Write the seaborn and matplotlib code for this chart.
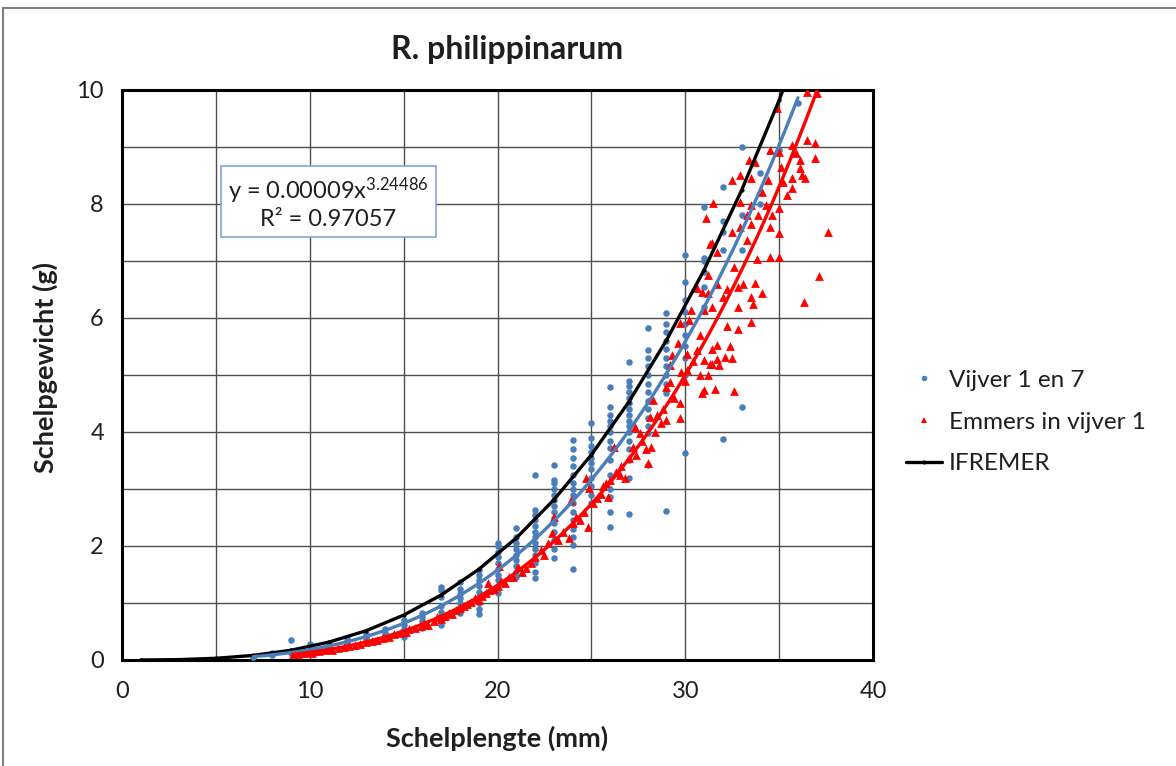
import numpy as np
import matplotlib
matplotlib.use("Agg")
import matplotlib.pyplot as plt
import seaborn as sns
from matplotlib.lines import Line2D

# ---------------- data ----------------
title = "R. philippinarum"
x_label = "Schelplengte (mm)"
y_label = "Schelpgewicht (g)"
series_names = ["Vijver 1 en 7", "Emmers in vijver 1", "IFREMER"]
equation_text = "y = 0.00009x$^{3.24486}$"
r2_text = "R² = 0.97057"

# Vijver 1 en 7: lengths (integer mm) and the weights measured at each length
blue_lengths = [7, 8, 9, 10, 11, 12, 13, 14, 15, 16, 17, 18, 19, 20, 21, 22,
                23, 24, 25, 26, 27, 28, 29, 30, 31, 32, 33, 34, 35, 36]
blue_weights = [
    [0.05, 0.06],
    [0.08, 0.10, 0.12],
    [0.12, 0.14, 0.16, 0.35],
    [0.16, 0.18, 0.20, 0.24, 0.28],
    [0.20, 0.24, 0.27, 0.30],
    [0.26, 0.30, 0.34, 0.38],
    [0.32, 0.36, 0.40, 0.45],
    [0.38, 0.43, 0.48, 0.55],
    [0.40, 0.48, 0.55, 0.62, 0.70],
    [0.56, 0.62, 0.68, 0.75, 0.82],
    [0.62, 0.70, 0.78, 0.85, 0.95, 1.10, 1.22, 1.28],
    [0.82, 0.90, 1.00, 1.08, 1.15, 1.25, 1.37],
    [0.80, 0.90, 1.00, 1.10, 1.20, 1.30, 1.40, 1.50, 1.58],
    [1.17, 1.30, 1.40, 1.50, 1.60, 1.70, 1.80, 1.90, 2.00, 2.05],
    [1.46, 1.55, 1.65, 1.75, 1.85, 1.95, 2.05, 2.15, 2.31],
    [1.43, 1.55, 1.70, 1.85, 1.95, 2.05, 2.15, 2.25, 2.35, 2.45, 2.55, 2.63, 3.25],
    [1.79, 1.95, 2.10, 2.25, 2.40, 2.50, 2.60, 2.70, 2.80, 2.90, 3.00, 3.10, 3.16, 3.42],
    [1.60, 2.02, 2.15, 2.30, 2.45, 2.60, 2.75, 2.90, 3.00, 3.10, 3.25, 3.40, 3.55, 3.70, 3.86],
    [2.75, 2.90, 3.05, 3.20, 3.35, 3.45, 3.55, 3.65, 3.75, 3.90, 4.16],
    [2.33, 2.60, 2.86, 3.00, 3.25, 3.50, 3.72, 3.85, 4.00, 4.10, 4.20, 4.30, 4.44, 4.79],
    [2.57, 3.20, 3.50, 3.70, 3.85, 4.00, 4.10, 4.20, 4.30, 4.40, 4.50, 4.60, 4.70, 4.80, 4.90, 5.23],
    [3.42, 3.98, 4.10, 4.25, 4.40, 4.55, 4.70, 4.85, 5.00, 5.15, 5.30, 5.44, 5.82],
    [2.62, 4.68, 4.85, 5.00, 5.15, 5.30, 5.45, 5.60, 5.75, 5.90, 6.08],
    [3.63, 5.00, 5.30, 5.50, 5.70, 5.90, 6.10, 6.32, 6.63, 7.10],
    [6.20, 6.55, 6.80, 7.00, 7.05, 7.95],
    [3.88, 7.20, 7.50, 7.70, 8.30],
    [4.44, 7.20, 7.80, 9.00],
    [8.00, 8.54],
    [8.95],
    [9.77],
]

# Emmers in vijver 1
red_lengths = [
    9.1, 9.4, 9.7, 9.9, 10.1, 10.3, 10.5, 10.8, 11.0, 11.2, 11.5, 11.8, 12.1, 12.4,
    12.7, 13.0, 13.3, 13.6, 13.9, 14.2, 14.5, 14.8, 15.1, 15.3, 15.6, 15.9, 16.1,
    16.3, 16.6, 16.8, 17.0, 17.2, 17.4, 17.6, 17.8, 18.0, 18.2, 18.4, 18.6, 18.8,
    19.0, 19.2, 19.4, 19.5, 19.6, 19.8, 20.0, 20.1, 20.2, 20.4, 20.6, 20.8,
    21.1, 21.3, 21.5, 21.8, 22.0, 22.3, 22.5, 22.7, 22.9, 23.0, 23.2, 23.5, 23.8,
    23.9, 24.0, 24.2, 24.4, 24.6, 24.7, 24.8, 24.9, 25.1, 25.3, 25.5, 25.6, 25.8,
    25.9, 26.0, 26.2, 26.3, 26.5, 26.6, 26.8, 27.0, 27.2, 27.3, 27.4, 27.6, 27.7,
    27.9, 28.0, 28.1, 28.2, 28.3, 28.4, 28.5, 28.7, 28.8, 29.0, 29.0, 29.2, 29.2,
    29.3, 29.4, 29.6, 29.7, 29.7, 29.7, 29.8, 30.0, 30.1, 30.1, 30.2, 30.3, 30.4,
    30.5, 30.6, 30.6, 30.8, 30.8, 30.9, 30.9, 31.0, 31.0,
    31.0, 31.1, 31.2, 31.2, 31.2, 31.3, 31.3, 31.4, 31.4, 31.4, 31.4, 31.5, 31.6,
    31.7, 31.7, 31.7, 31.7, 31.8, 32.0, 32.1, 32.2, 32.2, 32.4, 32.5, 32.5, 32.5,
    32.6, 32.6, 32.8, 32.8, 32.8, 32.9, 32.9, 32.9, 33.1, 33.3, 33.3, 33.4, 33.5,
    33.5, 33.5, 33.5, 33.5, 33.6, 33.7, 33.7, 33.8, 33.9, 34.1, 34.1, 34.3, 34.4,
    34.5, 34.5, 34.5, 34.6, 34.9, 35.0, 35.0, 35.0, 35.0, 35.1, 35.2, 35.4, 35.7,
    35.7, 35.7, 35.9, 36.1, 36.1, 36.2, 36.3, 36.4, 36.5, 36.5, 36.9, 36.9, 37.0,
    37.1, 37.6,
]
red_weights = [
    0.10, 0.11, 0.12, 0.14, 0.13, 0.15, 0.16, 0.17, 0.19, 0.18, 0.21, 0.22, 0.24, 0.26,
    0.28, 0.31, 0.33, 0.35, 0.38, 0.41, 0.45, 0.47, 0.50, 0.55, 0.57, 0.60, 0.65,
    0.62, 0.68, 0.75, 0.72, 0.78, 0.82, 0.80, 0.88, 0.92, 0.95, 0.98, 1.02, 1.08,
    1.05, 1.12, 1.18, 1.35, 1.22, 1.25, 1.30, 1.65, 1.38, 1.35, 1.45, 1.46,
    1.64, 1.55, 1.62, 1.70, 1.80, 1.93, 1.85, 2.05, 2.22, 2.51, 2.10, 2.25, 2.14,
    2.80, 2.40, 2.51, 2.45, 2.60, 3.19, 2.33, 3.02, 2.75, 2.85, 2.92, 3.05, 3.10,
    2.86, 3.15, 3.74, 3.30, 3.25, 3.40, 3.19, 3.55, 3.74, 4.09, 3.60, 3.98, 3.85,
    3.70, 3.46, 4.27, 3.74, 4.56, 4.00, 4.30, 4.15, 4.40, 4.79, 4.21, 5.18, 4.88,
    5.35, 4.60, 5.56, 4.51, 5.91, 4.25, 5.05, 4.90, 5.09, 5.37, 5.96, 6.14, 5.25,
    6.55, 5.44, 6.52, 5.00, 5.70, 6.45, 4.68, 4.74, 5.26,
    6.14, 7.75, 6.75, 6.44, 5.00, 7.30, 5.20, 7.31, 6.20, 5.46, 5.20, 8.02, 4.75,
    7.16, 6.60, 5.53, 5.28, 5.18, 6.37, 5.32, 6.50, 5.86, 5.50, 8.42, 7.51, 5.30,
    6.90, 4.72, 6.55, 5.80, 6.20, 8.51, 7.60, 8.04, 6.60, 7.80, 7.37, 8.77, 8.46,
    7.98, 7.65, 6.37, 5.93, 6.25, 8.74, 6.62, 7.03, 7.80, 8.21, 6.44, 7.98, 8.42,
    8.95, 7.60, 7.07, 7.80, 9.68, 8.91, 7.93, 7.49, 7.07, 8.65, 8.39, 8.16, 9.03,
    8.46, 8.28, 8.89, 8.77, 8.63, 8.51, 6.28, 8.46, 9.96, 9.12, 9.07, 8.81, 9.95,
    6.74, 7.51,
]

# IFREMER reference curve
ifremer_lengths = [1, 3, 5, 7, 9, 11, 13, 15, 17, 19, 21, 23, 25, 27, 29, 31, 33, 35, 37]
ifremer_weights = [0.0002, 0.0065, 0.030, 0.081, 0.171, 0.312, 0.513, 0.787, 1.14,
                   1.59, 2.14, 2.81, 3.60, 4.53, 5.61, 6.84, 8.24, 9.82, 11.6]

# ---------------- styling ----------------
sns.set_theme(style="white")
plt.rcParams['font.family'] = ['Lato', 'DejaVu Sans']
plt.rcParams['mathtext.fontset'] = 'custom'
plt.rcParams['mathtext.rm'] = 'Lato'
plt.rcParams['mathtext.it'] = 'Lato:italic'
plt.rcParams['mathtext.bf'] = 'Lato:bold'

BLUE = '#4a7ebb'
RED = '#ff0000'
GRID = '#4d4d4d'
TXT = '#1f1f1f'

fig = plt.figure(figsize=(11.76, 7.66), dpi=100)
ax = fig.add_axes([122 / 1176, 1 - 660 / 766, (873 - 122) / 1176, (660 - 90) / 766])

bx = np.concatenate([[L] * len(w) for L, w in zip(blue_lengths, blue_weights)]).astype(float)
by = np.concatenate(blue_weights).astype(float)
rx = np.array(red_lengths, dtype=float)
ry = np.array(red_weights, dtype=float)

sns.scatterplot(x=bx, y=by, ax=ax, color=BLUE, marker='o', s=22, linewidth=0, zorder=3)
sns.scatterplot(x=rx, y=ry, ax=ax, color=RED, marker='^', s=40, linewidth=0, zorder=3)

# IFREMER series
sns.lineplot(x=ifremer_lengths, y=ifremer_weights, ax=ax, color='black', lw=2.4,
             marker='o', markersize=3, markeredgewidth=0, estimator=None, sort=False, zorder=4)


def power_fit(x, y):
    b, ln_a = np.polyfit(np.log(x), np.log(y), 1)
    return np.exp(ln_a), b


for x, y, col in [(bx, by, BLUE), (rx, ry, RED)]:
    a, b = power_fit(x, y)
    xs = np.linspace(x.min(), x.max(), 200)
    sns.lineplot(x=xs, y=a * xs ** b, ax=ax, color=col, lw=2.4, estimator=None,
                 sort=False, zorder=5)

ax.set_xlim(0, 40)
ax.set_ylim(0, 10)
ax.set_xticks([0, 10, 20, 30, 40])
ax.set_xticks([5, 15, 25, 35], minor=True)
ax.set_yticks([0, 2, 4, 6, 8, 10])
ax.set_yticks([1, 3, 5, 7, 9], minor=True)
ax.grid(True, which='both', color=GRID, lw=1.0)
ax.set_axisbelow(True)
ax.tick_params(axis='both', which='major', direction='out', length=5, width=1,
               color='#404040', labelsize=17, labelcolor=TXT)
ax.tick_params(axis='x', which='major', pad=10)
ax.tick_params(axis='y', which='major', pad=8)
ax.tick_params(axis='both', which='minor', length=0)
for sp in ax.spines.values():
    sp.set_color('black')
    sp.set_linewidth(2.2)
ax.set_xlabel('')
ax.set_ylabel('')

# equation box
ax.text(11.0, 8.02, equation_text + "\n" + r2_text, ha='center', va='center',
        multialignment='center', fontsize=17, color=TXT, zorder=6, linespacing=1.15,
        bbox=dict(boxstyle='square,pad=0.3', fc='white', ec='#7ea6d8', lw=1.2))

# titles
fig.text(507 / 1176, 1 - 50 / 766, title, ha='center', va='center',
         fontsize=23, fontweight='bold', color=TXT)
fig.text(497 / 1176, 1 - 738 / 766, x_label, ha='center', va='center',
         fontsize=19.5, fontweight='bold', color=TXT)
fig.text(45 / 1176, 1 - 368 / 766, y_label, ha='center', va='center', rotation=90,
         fontsize=19.5, fontweight='bold', color=TXT)

# legend
handles = [
    Line2D([], [], ls='none', marker='o', color=BLUE, markersize=4, markeredgewidth=0),
    Line2D([], [], ls='none', marker='^', color=RED, markersize=5, markeredgewidth=0),
    Line2D([], [], color='black', lw=2.4, marker='o', markersize=3, markeredgewidth=0),
]
fig.legend(handles, series_names, loc='center left',
           bbox_to_anchor=(906 / 1176, 1 - 422 / 766), frameon=False, fontsize=17.5,
           labelspacing=0.85, handlelength=1.5, handletextpad=0.25,
           borderpad=0, borderaxespad=0, labelcolor=TXT)

# outer chart border (left and top visible)
fig.add_artist(Line2D([3 / 1176, 3 / 1176], [0, 1 - 8 / 766], transform=fig.transFigure,
                      color='#7f7f7f', lw=1.5))
fig.add_artist(Line2D([3 / 1176, 1], [1 - 8 / 766, 1 - 8 / 766], transform=fig.transFigure,
                      color='#7f7f7f', lw=1.5))

fig.savefig('out.png', dpi=100)
